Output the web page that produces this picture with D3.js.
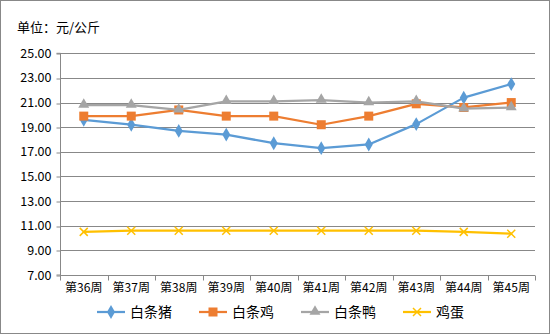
<!DOCTYPE html>
<html>
<head>
<meta charset="utf-8">
<script src="https://cdn.jsdelivr.net/npm/d3@7"></script>
<style>
  html, body { margin: 0; padding: 0; background: #fff; }
  svg { display: block; font-family: "Noto Sans CJK SC", "DejaVu Sans", sans-serif; }
</style>
</head>
<body>
<svg id="chart" width="550" height="334"></svg>
<script>
// Weekly wholesale prices (元/公斤)
const weeks = ["第36周", "第37周", "第38周", "第39周", "第40周", "第41周", "第42周", "第43周", "第44周", "第45周"];
const pork    = [19.6, 19.2, 18.7, 18.4, 17.7, 17.3, 17.6, 19.25, 21.4, 22.5];
const chicken = [19.9, 19.9, 20.4, 19.9, 19.9, 19.2, 19.9, 20.9, 20.6, 21.0];
const duck    = [20.8, 20.8, 20.4, 21.1, 21.1, 21.2, 21.0, 21.1, 20.5, 20.6];
const eggs    = [10.5, 10.6, 10.6, 10.6, 10.6, 10.6, 10.6, 10.6, 10.5, 10.35];
const yTicks  = [7, 9, 11, 13, 15, 17, 19, 21, 23, 25];

const series = [
  { name: "白条猪", values: pork,    color: "#5B9BD5", marker: "diamond" },
  { name: "白条鸡", values: chicken, color: "#ED7D31", marker: "square" },
  { name: "白条鸭", values: duck,    color: "#A5A5A5", marker: "triangle" },
  { name: "鸡蛋",   values: eggs,    color: "#FFC000", marker: "cross" }
];

const svg = d3.select("#chart");
const W = 550, H = 334;
const plot = { left: 60, right: 535, top: 53.3, bottom: 275 };
const gridColor = "#888888";

// outer frame
svg.append("rect")
  .attr("x", 0.5).attr("y", 0.5).attr("width", W - 1).attr("height", H - 1)
  .attr("fill", "#fff").attr("stroke", "#888").attr("stroke-width", 1);

// unit caption
svg.append("text")
  .attr("x", 17).attr("y", 32)
  .attr("font-size", 13).attr("fill", "#000")
  .text("单位：元/公斤");

const x = d3.scaleBand().domain(weeks).range([plot.left, plot.right]).padding(0);
const y = d3.scaleLinear().domain([7, 25]).range([plot.bottom, plot.top]);

// horizontal gridlines
svg.append("g")
  .selectAll("line")
  .data(yTicks.filter(t => t !== 7))
  .join("line")
  .attr("x1", plot.left).attr("x2", plot.right)
  .attr("y1", d => Math.round(y(d)) + 0.5).attr("y2", d => Math.round(y(d)) + 0.5)
  .attr("stroke", gridColor).attr("stroke-width", 1);

// y axis
const yAxis = svg.append("g")
  .attr("transform", `translate(${plot.left + 0.5},0)`)
  .call(d3.axisLeft(y).tickValues(yTicks).tickFormat(d3.format(".2f")).tickSize(4).tickPadding(5));
yAxis.select(".domain").attr("stroke", gridColor).attr("d", `M-4,${plot.top}H0V${plot.bottom}H-4`);
yAxis.selectAll(".tick line").attr("stroke", gridColor)
  .attr("transform", function (d) { return `translate(0,${Math.round(y(d)) + 0.5 - y(d)})`; });
yAxis.selectAll(".tick text").attr("font-size", 12.5).attr("fill", "#000")
  .attr("font-family", "\"Noto Sans CJK SC\", sans-serif");

// x axis
const xAxis = svg.append("g")
  .attr("transform", `translate(0,${Math.round(plot.bottom) + 0.5})`)
  .call(d3.axisBottom(x).tickSize(0).tickPadding(8));
xAxis.select(".domain").attr("stroke", gridColor).attr("d", `M${plot.left},0H${plot.right}`);
xAxis.selectAll(".tick text").attr("font-size", 12).attr("fill", "#000")
  .attr("font-family", "\"Noto Sans CJK SC\", sans-serif");
// category separators
xAxis.append("g")
  .selectAll("line")
  .data(weeks.concat(["__end"]))
  .join("line")
  .attr("x1", (d, i) => Math.round(plot.left + i * x.bandwidth()) + 0.5)
  .attr("x2", (d, i) => Math.round(plot.left + i * x.bandwidth()) + 0.5)
  .attr("y1", 0).attr("y2", 5)
  .attr("stroke", gridColor);

const cx = i => x(weeks[i]) + x.bandwidth() / 2;

function drawMarker(g, type, color, px, py) {
  if (type === "diamond") {
    g.append("path").attr("d", d3.symbol(d3.symbolDiamond, 56)())
      .attr("transform", `translate(${px},${py})`).attr("fill", color);
  } else if (type === "square") {
    g.append("rect").attr("x", px - 4.5).attr("y", py - 4.5).attr("width", 9).attr("height", 9)
      .attr("fill", color);
  } else if (type === "triangle") {
    g.append("path").attr("d", d3.symbol(d3.symbolTriangle, 52)())
      .attr("transform", `translate(${px},${py - 0.5})`).attr("fill", color);
  } else if (type === "cross") {
    g.append("path").attr("d", `M${px - 4},${py - 4}L${px + 4},${py + 4}M${px - 4},${py + 4}L${px + 4},${py - 4}`)
      .attr("stroke", color).attr("stroke-width", 1.5).attr("fill", "none");
  }
}

const line = d3.line().x((d, i) => cx(i)).y(d => y(d));

series.forEach(s => {
  const g = svg.append("g");
  g.append("path").datum(s.values).attr("d", line)
    .attr("fill", "none").attr("stroke", s.color).attr("stroke-width", 2.25)
    .attr("stroke-linejoin", "round").attr("stroke-linecap", "round");
  s.values.forEach((v, i) => drawMarker(g, s.marker, s.color, cx(i), y(v)));
});

// legend
const legendX = [97, 199, 301, 403];
const legendY = 312;
series.forEach((s, i) => {
  const g = svg.append("g");
  const lx = legendX[i];
  g.append("line").attr("x1", lx).attr("x2", lx + 28).attr("y1", legendY).attr("y2", legendY)
    .attr("stroke", s.color).attr("stroke-width", 2.25);
  drawMarker(g, s.marker, s.color, lx + 14, legendY);
  g.append("text").attr("x", lx + 33).attr("y", legendY + 5)
    .attr("font-size", 14).attr("fill", "#000").text(s.name);
});
</script>
</body>
</html>
